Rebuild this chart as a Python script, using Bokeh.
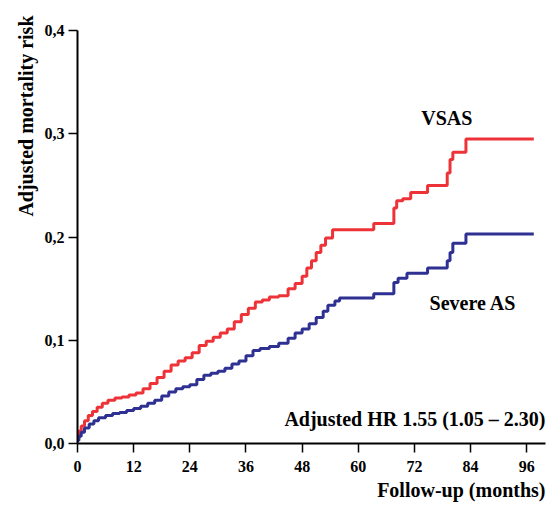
import math
from bokeh.plotting import figure
from bokeh.models import FixedTicker, Label, Range1d, Title
from bokeh.embed import file_html
from bokeh.resources import INLINE

# ---- data ----
vsas_months = [0, 0.3, 0.8, 1.5, 2.3, 3.2, 4.2, 5.3, 6.5, 8, 9.5, 11, 12.5, 14, 15.5, 17, 18.5, 20,
               21.5, 23, 24.5, 26, 27.5, 29, 30.5, 32, 33.5, 35, 36.5, 38, 39.5, 41, 43, 45, 46.5,
               48, 49, 50, 51, 52, 53, 54.5, 63.3, 67.6, 68.2, 69.5, 71.2, 74.8, 79, 79.6, 80.2,
               83, 97.5]
vsas_risk = [0.005, 0.012, 0.017, 0.022, 0.027, 0.031, 0.035, 0.039, 0.042, 0.044, 0.045, 0.047,
             0.049, 0.053, 0.058, 0.064, 0.070, 0.076, 0.080, 0.083, 0.088, 0.095, 0.099, 0.103,
             0.107, 0.111, 0.118, 0.125, 0.131, 0.137, 0.139, 0.142, 0.143, 0.150, 0.155, 0.162,
             0.170, 0.177, 0.185, 0.192, 0.199, 0.207, 0.213, 0.228, 0.235, 0.237, 0.243, 0.250,
             0.262, 0.275, 0.282, 0.295, 0.295]

severe_months = [0, 0.3, 0.8, 1.5, 2.5, 3.5, 4.5, 6, 7.5, 9, 10.5, 12, 13.5, 15, 16.5, 18, 19.5, 21,
                 22.5, 24, 25.5, 27, 28.5, 30, 31.5, 33, 34.5, 36, 37.5, 39, 41, 43, 45, 46.5, 48,
                 49.5, 51, 52.5, 53.5, 55, 56, 63.3, 67.6, 68.5, 70.4, 74.8, 79, 79.6, 80.2, 83,
                 97.5]
severe_risk = [0.003, 0.007, 0.011, 0.015, 0.019, 0.022, 0.025, 0.027, 0.029, 0.030, 0.032, 0.034,
               0.036, 0.039, 0.042, 0.046, 0.050, 0.053, 0.055, 0.057, 0.062, 0.066, 0.068, 0.070,
               0.073, 0.077, 0.080, 0.085, 0.090, 0.092, 0.094, 0.097, 0.102, 0.107, 0.111, 0.116,
               0.122, 0.128, 0.134, 0.138, 0.141, 0.145, 0.156, 0.160, 0.165, 0.170, 0.177, 0.185,
               0.194, 0.203, 0.203]

x_ticks = [0, 12, 24, 36, 48, 60, 72, 84, 96]
y_ticks = [0.0, 0.1, 0.2, 0.3, 0.4]
y_tick_labels = ["0,0", "0,1", "0,2", "0,3", "0,4"]

FONT = "Liberation Serif"
RED = "#ee3338"
BLUE = "#2e3192"

p = figure(width=550, height=505, output_backend="svg", toolbar_location=None,
           x_range=Range1d(0, 100), y_range=Range1d(0, 0.4),
           min_border_left=77, min_border_right=5, min_border_top=30, min_border_bottom=62)
p.outline_line_color = None
p.xgrid.visible = False
p.ygrid.visible = False
p.background_fill_color = "white"

p.step(vsas_months, vsas_risk, mode="after", line_color=RED, line_width=3)
p.step(severe_months, severe_risk, mode="after", line_color=BLUE, line_width=3)

for ax in (p.xaxis[0], p.yaxis[0]):
    ax.axis_line_color = "black"
    ax.axis_line_width = 2
    ax.major_tick_line_color = "black"
    ax.major_tick_line_width = 1.5
    ax.major_tick_out = 9
    ax.major_tick_in = 0
    ax.minor_tick_line_color = None
    ax.major_label_text_font = FONT
    ax.major_label_text_font_style = "bold"
    ax.major_label_text_font_size = "16px"
    ax.major_label_text_color = "black"

p.xaxis.ticker = FixedTicker(ticks=x_ticks)
p.yaxis.ticker = FixedTicker(ticks=y_ticks)
p.yaxis.major_label_overrides = {t: l for t, l in zip(y_ticks, y_tick_labels)}
p.xaxis.major_label_standoff = 8
p.yaxis.major_label_standoff = 4
p.xaxis.bounds = (0, 100)
p.yaxis.bounds = (0, 0.4)

p.add_layout(Title(text="Adjusted mortality risk", align="right", text_font=FONT,
                   text_font_style="bold", text_font_size="20px", text_color="black",
                   offset=-15), "left")
p.add_layout(Title(text="Follow-up (months)", align="right", text_font=FONT,
                   text_font_style="bold", text_font_size="20px", text_color="black",
                   standoff=4), "below")

def lab(x, y, text, size, align="center"):
    p.add_layout(Label(x=x, y=y, text=text, text_font=FONT, text_font_style="bold",
                       text_font_size=size, text_color="black", text_align=align,
                       text_baseline="middle"))

lab(100, 0.024, "Adjusted HR 1.55 (1.05 \u2013 2.30)", "20px", align="right")
lab(78.9, 0.315, "VSAS", "20px")
lab(84.5, 0.1356, "Severe AS", "20px")

open("out.html", "w").write(file_html(p, INLINE))
